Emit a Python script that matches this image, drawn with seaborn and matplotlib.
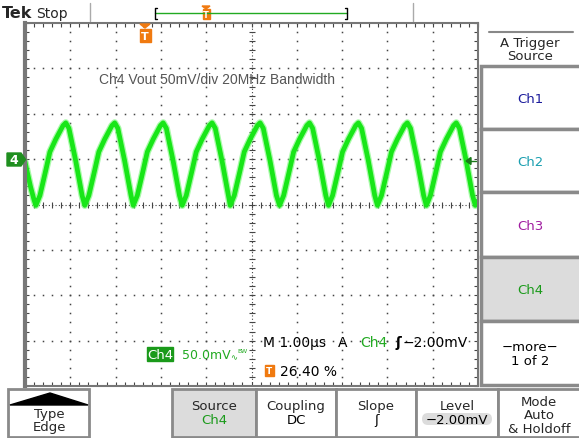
import numpy as np
import pandas as pd
import matplotlib.pyplot as plt
import seaborn as sns
from matplotlib.patches import Rectangle, Polygon, FancyBboxPatch

# Ch4 trace: time in us from left edge, level in mV from ground marker
time_us = [0.00, 0.12, 0.20,
           0.24, 0.33, 0.46, 0.55, 0.68, 0.84, 0.90, 0.97, 1.12, 1.26,
           1.32, 1.41, 1.54, 1.63, 1.76, 1.92, 1.98, 2.05, 2.20, 2.34,
           2.39, 2.48, 2.61, 2.70, 2.83, 2.99, 3.05, 3.12, 3.27, 3.41,
           3.47, 3.56, 3.69, 3.78, 3.91, 4.07, 4.13, 4.20, 4.35, 4.49,
           4.53, 4.62, 4.75, 4.84, 4.97, 5.13, 5.19, 5.26, 5.41, 5.55,
           5.62, 5.71, 5.84, 5.93, 6.06, 6.22, 6.28, 6.35, 6.50, 6.64,
           6.70, 6.79, 6.92, 7.01, 7.14, 7.30, 7.36, 7.43, 7.58, 7.72,
           7.78, 7.87, 8.00, 8.09, 8.22, 8.38, 8.44, 8.51, 8.66, 8.80,
           8.86, 8.95, 9.08, 9.17, 9.30, 9.46, 9.52, 9.59, 9.74, 9.88,
           9.94, 10.00]
ch4_mv = [-3, -30, -45,
          -51, -40, -12, 8, 22, 37, 40, 34, -2, -40,
          -51, -40, -12, 8, 22, 37, 40, 34, -2, -40,
          -51, -40, -12, 8, 22, 37, 40, 34, -2, -40,
          -51, -40, -12, 8, 22, 37, 40, 34, -2, -40,
          -51, -40, -12, 8, 22, 37, 40, 34, -2, -40,
          -51, -40, -12, 8, 22, 37, 40, 34, -2, -40,
          -51, -40, -12, 8, 22, 37, 40, 34, -2, -40,
          -51, -40, -12, 8, 22, 37, 40, 34, -2, -40,
          -51, -40, -12, 8, 22, 37, 40, 34, -2, -40,
          -51, -46]

title_text = "Ch4 Vout 50mV/div 20MHz Bandwidth"
side_labels = ["Ch1", "Ch2", "Ch3", "Ch4", "\u2212more\u2212\n1 of 2"]
side_colors = ["#1c1c9c", "#1a9fb0", "#a01ca0", "#1a9a1a", "black"]
bottom_top = ["Source", "Coupling", "Slope", "Level", "Mode\nAuto\n& Holdoff"]
bottom_low = ["Ch4", "DC", "\u0283", "\u22122.00mV", ""]

df = pd.DataFrame({"time_us": time_us, "ch4_mv": ch4_mv})

sns.set_theme(style="white")
plt.rcParams["font.family"] = ["DejaVu Sans"]

W, H = 579, 439
fig = plt.figure(figsize=(W / 100, H / 100), dpi=100)
fig.patch.set_facecolor("white")

# graticule: 10 x 8 divisions, ground 3 div below top
ax = fig.add_axes([25 / W, (H - 387) / H, 453 / W, 363 / H])
ax.set_xlim(0, 10)
ax.set_ylim(-250, 150)
ax.set_facecolor("white")

dots_y = np.arange(-250, 151, 10)
dots_x = np.arange(0, 10.01, 0.2)
for xv in range(1, 10):
    if xv != 5:
        ax.plot(np.full(len(dots_y), xv), dots_y, ls="none", marker="s", ms=1.1, mew=0, color="#444")
for yv in [-200, -150, -100, 0, 50, 100]:
    ax.plot(dots_x, np.full(len(dots_x), yv), ls="none", marker="s", ms=1.1, mew=0, color="#444")
# centre crosshair with fine ticks
ax.axvline(5, color="#444", lw=0.8, ls=(0, (1, 2)))
ax.axhline(-50, color="#444", lw=0.8, ls=(0, (1, 2)))
ax.plot(dots_x, np.full(len(dots_x), -50), ls="none", marker="|", ms=4, mew=0.8, color="#444")
ax.plot(np.full(len(dots_y), 5), dots_y, ls="none", marker="_", ms=4, mew=0.8, color="#444")

ax.set_xticks(dots_x)
ax.set_yticks(dots_y)
ax.tick_params(which="both", direction="in", length=3, width=0.8, color="#444",
               top=True, right=True, left=True, bottom=True,
               labelleft=False, labelbottom=False)
for side, sp in ax.spines.items():
    sp.set_color("#777")
    sp.set_linewidth(1.5)
ax.spines["left"].set_linewidth(3)

sns.lineplot(data=df, x="time_us", y="ch4_mv", sort=False, estimator=None,
             color="#70f870", lw=5.2, alpha=0.6, ax=ax, legend=False)
sns.lineplot(data=df, x="time_us", y="ch4_mv", sort=False, estimator=None,
             color="#18e618", lw=3.4, ax=ax, legend=False)
ax.set_xlabel("")
ax.set_ylabel("")

# overlay in screen pixels for the scope menus and readouts
ui = fig.add_axes([0, 0, 1, 1], zorder=5)
ui.set_xlim(0, W)
ui.set_ylim(H, 0)
ui.axis("off")
ui.patch.set_alpha(0)

fs = 9.5
# top status bar
ui.text(2, 14, "Tek", fontsize=11.5, fontweight="bold", va="center", ha="left")
ui.text(36, 14, "Stop", fontsize=10, va="center", ha="left")
ui.plot([90, 90], [4, 22], color="#aaa", lw=1)
ui.plot([413, 413], [4, 22], color="#aaa", lw=1)
ui.plot([155, 347], [14, 14], color="#22aa22", lw=1)
ui.plot([157, 155, 155, 157], [9, 9, 20, 20], color="black", lw=1)
ui.plot([345, 347, 347, 345], [9, 9, 20, 20], color="black", lw=1)
ui.add_patch(Polygon([[202, 7], [210, 7], [206, 10]], color="#f07a10"))
ui.add_patch(Rectangle((202.5, 10), 7, 10, color="#f07a10"))
ui.text(206, 15.5, "T", color="white", fontsize=6, fontweight="bold", ha="center", va="center")

# trigger position marker
ui.add_patch(Polygon([[140, 25], [150, 25], [145, 29]], color="#f07a10"))
ui.add_patch(Rectangle((139.5, 29.5), 11, 13, color="#f07a10"))
ui.text(145, 36.5, "T", color="white", fontsize=8, fontweight="bold", ha="center", va="center")

ui.text(99, 80, title_text, fontsize=10, color="#555", va="center", ha="left",
        family=["Liberation Sans", "DejaVu Sans"])

# ground marker and trigger level arrow
ui.add_patch(Polygon([[7, 154], [21, 154], [25.5, 160.5], [21, 167], [7, 167]], color="#1f8f1f"))
ui.text(14, 161, "4", color="white", fontsize=9, fontweight="bold", ha="center", va="center")
ui.add_patch(Polygon([[466, 162], [471, 158.5], [471, 165.5]], color="#1a7a1a"))
ui.plot([470, 476], [162, 162], color="#1a7a1a", lw=1)

# readouts
ui.add_patch(Rectangle((147, 348), 26, 14, color="#1a9a1a"))
ui.text(160, 355.5, "Ch4", color="white", fontsize=fs, ha="center", va="center")
ui.text(182, 356, "50.0mV", color="#22aa22", fontsize=9, ha="left", va="center")
ui.text(230, 358, "\u223f", color="#22aa22", fontsize=6, ha="left", va="center")
ui.text(237, 352, "BW", color="#22aa22", fontsize=4.5, ha="left", va="center")
ui.text(263, 343, "M 1.00\u00b5s", color="black", fontsize=10, ha="left", va="center")
ui.text(343, 343, "A", color="black", fontsize=10, ha="center", va="center")
ui.text(360, 343, "Ch4", color="#22aa22", fontsize=10, ha="left", va="center")
ui.text(398, 343, "\u0283", color="black", fontsize=10, fontweight="bold", ha="center", va="center")
ui.text(403, 343, "\u22122.00mV", color="black", fontsize=10, ha="left", va="center")
ui.add_patch(Rectangle((265, 366), 9, 11, color="#f07a10"))
ui.text(269.5, 371.5, "T", color="white", fontsize=6.5, fontweight="bold", ha="center", va="center")
ui.text(280, 372, "26.40 %", color="black", fontsize=10, ha="left", va="center")

# right side menu
ui.plot([489, 573], [33, 33], color="#888", lw=1.5)
ui.text(530, 50, "A Trigger\nSource", fontsize=fs, ha="center", va="center", linespacing=1.1)
side_edges = [67, 130, 193, 258, 322, 386]
for i, lab in enumerate(side_labels):
    y0, y1 = side_edges[i], side_edges[i + 1]
    fill = "#dcdcdc" if lab == "Ch4" else "white"
    ui.add_patch(Rectangle((481, y0), 110, y1 - y0, facecolor=fill, edgecolor="#8a8a8a", lw=2.5))
    ui.text(530, (y0 + y1) / 2 + 1, lab, color=side_colors[i], fontsize=fs,
            ha="center", va="center", linespacing=1.1)

# bottom menu
ui.add_patch(Rectangle((8, 390), 81, 48, facecolor="white", edgecolor="#8a8a8a", lw=2))
ui.add_patch(Polygon([[10, 406], [88, 406], [50, 394]], color="black"))
ui.text(49, 421, "Type\nEdge", fontsize=fs, ha="center", va="center", linespacing=1.05)
bottom_edges = [172, 256, 336, 416, 498, 590]
for i, lab in enumerate(bottom_top):
    x0, x1 = bottom_edges[i], bottom_edges[i + 1]
    fill = "#dcdcdc" if lab == "Source" else "white"
    ui.add_patch(Rectangle((x0, 390), x1 - x0, 48, facecolor=fill, edgecolor="#8a8a8a", lw=2))
    xc = (x0 + x1) / 2 if i < 4 else 539
    if bottom_low[i]:
        ui.text(xc, 407, lab, fontsize=fs, ha="center", va="center")
        if lab == "Level":
            ui.add_patch(FancyBboxPatch((422, 414), 70, 12, boxstyle="round,pad=0,rounding_size=6",
                                        facecolor="#dcdcdc", edgecolor="none"))
        col = "#1a9a1a" if lab == "Source" else "black"
        ui.text(xc, 421, bottom_low[i], fontsize=fs, color=col, ha="center", va="center")
    else:
        ui.text(xc, 416, lab, fontsize=fs, ha="center", va="center", linespacing=1.05)

fig.savefig("out.png", dpi=100, facecolor="white")
